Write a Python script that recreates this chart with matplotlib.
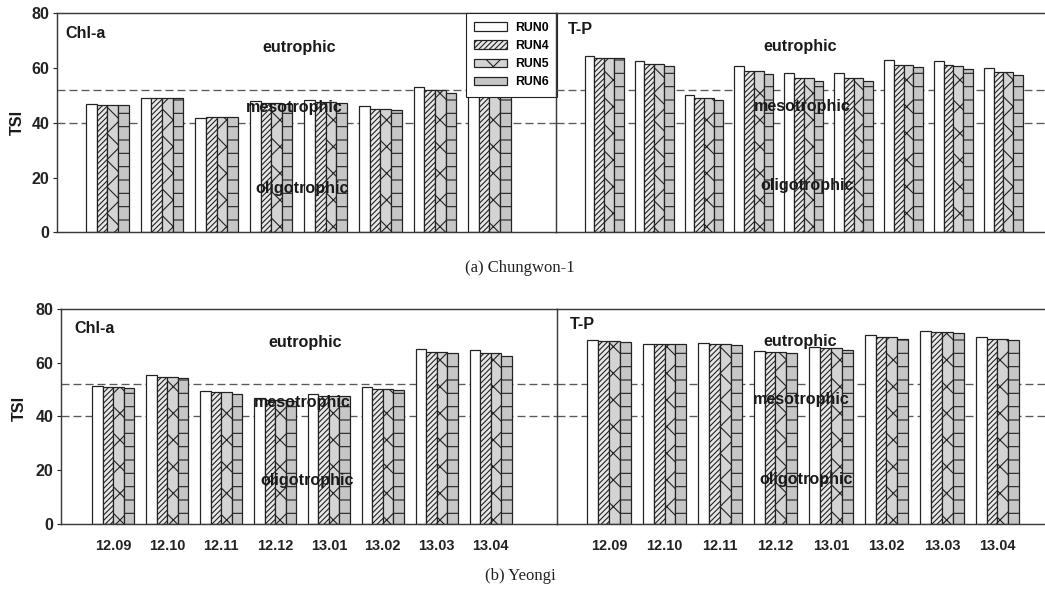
import matplotlib
matplotlib.use("Agg")
import matplotlib.pyplot as plt
import numpy as np

# ---------------- data ----------------
runs = ["RUN0", "RUN4", "RUN5", "RUN6"]
months = ["12.09", "12.10", "12.11", "12.12", "13.01", "13.02", "13.03", "13.04"]

# (a) Chungwon-1
chl_top = {
    "RUN0": [46.8, 48.9, 41.9, 47.8, 48.5, 46.3, 52.9, 51.9],
    "RUN4": [46.6, 48.9, 42.0, 47.3, 47.6, 45.1, 51.8, 50.3],
    "RUN5": [46.6, 48.9, 42.0, 47.3, 47.6, 45.1, 51.8, 50.3],
    "RUN6": [46.4, 48.9, 42.3, 47.0, 47.4, 44.5, 50.9, 49.8],
}
tp_top = {
    "RUN0": [64.4, 62.6, 50.1, 60.7, 58.3, 58.2, 62.8, 62.7, 59.9],
    "RUN4": [63.8, 61.5, 49.1, 59.1, 56.4, 56.3, 61.2, 61.0, 58.7],
    "RUN5": [63.8, 61.5, 49.1, 59.1, 56.4, 56.3, 61.2, 60.9, 58.7],
    "RUN6": [63.5, 60.9, 48.5, 58.0, 55.4, 55.3, 60.3, 59.5, 57.6],
}
# (b) Yeongi
chl_bot = {
    "RUN0": [51.3, 55.5, 49.6, 46.8, 48.4, 50.8, 64.9, 64.5],
    "RUN4": [50.8, 54.8, 48.9, 46.0, 47.7, 50.0, 64.0, 63.4],
    "RUN5": [50.8, 54.8, 48.9, 46.0, 47.7, 50.0, 64.0, 63.4],
    "RUN6": [50.7, 54.2, 48.5, 45.6, 47.5, 49.7, 63.4, 62.5],
}
tp_bot = {
    "RUN0": [68.3, 67.0, 67.3, 64.3, 65.8, 70.3, 71.6, 69.5],
    "RUN4": [67.8, 67.0, 66.9, 63.8, 65.3, 69.4, 71.4, 68.8],
    "RUN5": [67.8, 67.0, 66.9, 63.8, 65.3, 69.4, 71.3, 68.8],
    "RUN6": [67.5, 66.8, 66.4, 63.4, 64.7, 68.6, 71.0, 68.2],
}
thresholds = [52, 40]

# ---------------- style ----------------
W, H, DPI = 1045, 591, 80
plt.rcParams["font.family"] = ["Liberation Sans", "DejaVu Sans"]
plt.rcParams["hatch.linewidth"] = 1.0
EDGE = "#222222"
styles = {
    "RUN0": dict(facecolor="white", hatch=None),
    "RUN4": dict(facecolor="#e8e8e8", hatch="/////"),
    "RUN5": dict(facecolor="#d4d4d4", hatch="x"),
    "RUN6": dict(facecolor="#c6c6c6", hatch="-"),
}
width = 0.195
offsets = [-1.5 * width, -0.5 * width, 0.5 * width, 1.5 * width]

fig = plt.figure(figsize=(W / DPI, H / DPI), dpi=DPI)


def fx(px):
    return px / W


def fy(py):
    return 1 - py / H


def make_axes(x0, x1, ytop, ybot):
    return fig.add_axes([fx(x0), fy(ybot), fx(x1) - fx(x0), fy(ytop) - fy(ybot)])


def draw_panel(ax, data, xlim, left, title, title_pos, labels_pos, xlabels):
    n = len(data["RUN0"])
    x = np.arange(n)
    handles = []
    for r, off in zip(runs, offsets):
        st = styles[r]
        b = ax.bar(x + off, data[r], width=width, facecolor=st["facecolor"],
                   edgecolor=EDGE, linewidth=1.1, hatch=st["hatch"], label=r, zorder=2)
        handles.append(b)
    ax.set_xlim(*xlim)
    ax.set_ylim(0, 80)
    for t in thresholds:
        ax.axhline(t, color="#5a5a5a", lw=1.2, dashes=(6, 3), zorder=1)
    for s in ["top", "left", "bottom"]:
        ax.spines[s].set_color("#3a3a3a")
        ax.spines[s].set_linewidth(1.3)
    ax.spines["right"].set_visible(False)
    ax.set_facecolor("none")
    if left:
        ax.set_yticks([0, 20, 40, 60, 80])
        ax.tick_params(axis="y", direction="out", length=4, width=1.0,
                       labelsize=14.5, pad=3, colors="#222222")
        for lab in ax.get_yticklabels():
            lab.set_fontweight("bold")
    else:
        ax.set_yticks([])
    if xlabels is not None:
        ax.set_xticks(x)
        ax.set_xticklabels(xlabels, fontsize=13, fontweight="bold")
        ax.tick_params(axis="x", length=0, pad=13, colors="#222222")
    else:
        ax.set_xticks([])
    ax.text(title_pos[0], title_pos[1], title, transform=ax.transAxes,
            fontsize=14.5, fontweight="bold", ha="left", va="center", color="#1a1a1a")
    for txt, (px, py) in zip(["eutrophic", "mesotrophic", "oligotrophic"], labels_pos):
        ax.text(px, py, txt, fontsize=14.5, fontweight="bold", ha="center",
                va="center", color="#1a1a1a", zorder=5)
    return handles


# top row
ax_tl = make_axes(57, 556, 13.3, 232.3)
ax_tr = make_axes(556, 1045, 13.3, 232.3)
# bottom row
ax_bl = make_axes(61, 557, 308.6, 524.3)
ax_br = make_axes(557, 1045, 308.6, 524.3)

h = draw_panel(ax_tl, chl_top, (-0.925, 8.22), True, "Chl-a", (0.016, 0.91),
               [(3.52, 67.5), (3.43, 45.7), (3.57, 16.1)], None)
draw_panel(ax_tr, tp_top, (-0.966, 8.834), False, "T-P", (0.0245, 0.928),
           [(3.92, 68.0), (3.98, 46.0), (4.06, 17.2)], None)
draw_panel(ax_bl, chl_bot, (-0.97, 8.23), True, "Chl-a", (0.026, 0.907),
           [(3.56, 67.5), (3.50, 45.2), (3.59, 16.2)], months)
draw_panel(ax_br, tp_bot, (-0.937, 7.856), False, "T-P", (0.0266, 0.926),
           [(3.44, 67.9), (3.47, 46.2), (3.56, 16.8)], months)

leg = ax_tl.legend(handles=h, labels=runs, loc="upper right", bbox_to_anchor=(1.002, 1.0),
                   borderaxespad=0, fancybox=False, framealpha=1, edgecolor="#222222",
                   prop=dict(family="Liberation Sans", weight="bold", size=11),
                   handlelength=2.7, handleheight=0.7, labelspacing=0.5,
                   handletextpad=0.6, borderpad=0.7)
leg.get_frame().set_linewidth(1.0)
leg.set_zorder(10)

# y-axis labels
fig.text(fx(17), fy(122), "TSI", rotation=90, fontsize=14.5, fontweight="bold",
         ha="center", va="center", color="#1a1a1a")
fig.text(fx(19), fy(408), "TSI", rotation=90, fontsize=14.5, fontweight="bold",
         ha="center", va="center", color="#1a1a1a")

# captions
fig.text(fx(520), fy(268), "(a) Chungwon-1", family="Liberation Serif", fontsize=15,
         ha="center", va="center", color="#222222")
fig.text(fx(520), fy(576), "(b) Yeongi", family="Liberation Serif", fontsize=15,
         ha="center", va="center", color="#222222")

fig.savefig("out.png", dpi=DPI)
